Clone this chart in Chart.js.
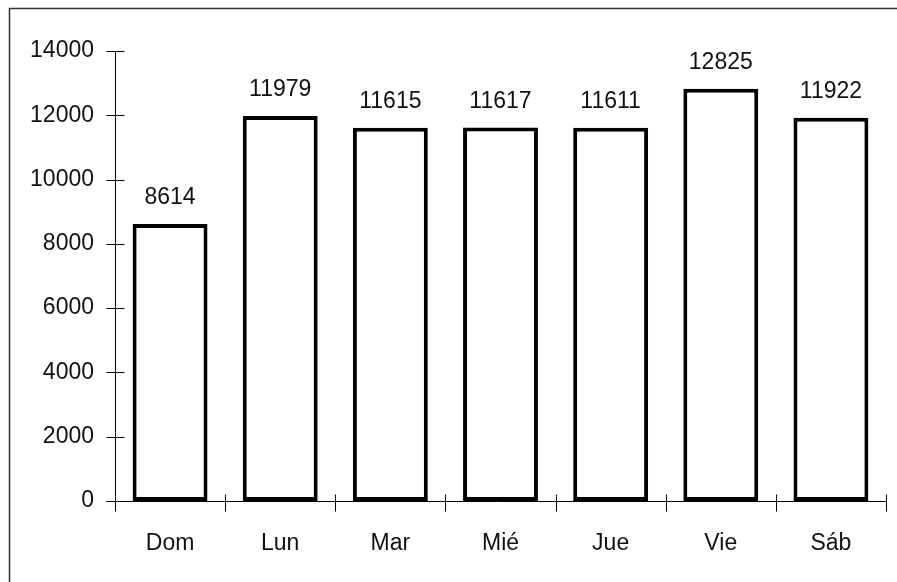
<!DOCTYPE html>
<html>
<head>
<meta charset="utf-8">
<script src="https://cdn.jsdelivr.net/npm/chart.js@4.4.0/dist/chart.umd.min.js"></script>
<style>
  body { margin: 0; background: #fff; }
  #wrap { width: 897px; height: 582px; }
</style>
</head>
<body>
<div id="wrap"><canvas id="visitasChart" width="897" height="582"></canvas></div>
<script>
// datos
const dias = ['Dom', 'Lun', 'Mar', 'Mié', 'Jue', 'Vie', 'Sáb'];
const visitas = [8614, 11979, 11615, 11617, 11611, 12825, 11922];
const yMax = 14000;
const yPaso = 2000;

const fuente = '"Liberation Sans", Arial, sans-serif';

// marco, ejes con marcas cruzadas y etiquetas de valor
const dibujoExtra = {
    id: 'dibujoExtra',
    beforeDraw(chart) {
        const ctx = chart.ctx;
        ctx.save();
        ctx.fillStyle = '#fff';
        ctx.fillRect(0, 0, chart.width, chart.height);
        ctx.strokeStyle = '#333';
        ctx.lineWidth = 1.5;
        ctx.beginPath();
        ctx.moveTo(9.5, chart.height);
        ctx.lineTo(9.5, 8.5);
        ctx.lineTo(chart.width, 8.5);
        ctx.stroke();
        ctx.restore();
    },
    afterDatasetsDraw(chart) {
        const { ctx, chartArea, scales: { x, y } } = chart;
        ctx.save();
        ctx.strokeStyle = '#000';
        ctx.lineWidth = 1;

        const ax = Math.round(chartArea.left) + 0.5;
        const base = Math.round(chartArea.bottom) + 0.5;

        // eje y
        ctx.beginPath();
        ctx.moveTo(ax, Math.round(y.getPixelForValue(yMax)) + 0.5);
        ctx.lineTo(ax, base + 10);
        y.ticks.forEach(t => {
            const py = Math.round(y.getPixelForValue(t.value)) + 0.5;
            ctx.moveTo(ax - 9, py);
            ctx.lineTo(ax + 9, py);
        });

        // eje x
        ctx.moveTo(ax - 9, base);
        ctx.lineTo(chartArea.right, base);
        const paso = x.getPixelForValue(1) - x.getPixelForValue(0);
        for (let i = 1; i <= dias.length; i++) {
            const px = Math.round(x.getPixelForValue(i) - paso / 2) + 0.5;
            ctx.moveTo(px, base - 7);
            ctx.lineTo(px, base + 10);
        }
        ctx.stroke();

        // valores encima de las barras
        ctx.fillStyle = '#111';
        ctx.font = '23px ' + fuente;
        ctx.textAlign = 'center';
        ctx.textBaseline = 'alphabetic';
        chart.getDatasetMeta(0).data.forEach((bar, i) => {
            ctx.fillText(String(visitas[i]), bar.x, bar.y - 20);
        });
        ctx.restore();
    }
};

const ctx = document.getElementById('visitasChart').getContext('2d');

new Chart(ctx, {
    type: 'bar',
    data: {
        labels: dias,
        datasets: [{
            data: visitas,
            backgroundColor: '#fff',
            borderColor: '#000',
            borderWidth: 4,
            borderSkipped: false,
            categoryPercentage: 1,
            barPercentage: 0.68
        }]
    },
    options: {
        responsive: false,
        animation: false,
        layout: {
            padding: { top: 51, right: 11, left: 0, bottom: 0 }
        },
        plugins: {
            legend: { display: false },
            tooltip: { enabled: false }
        },
        scales: {
            x: {
                grid: { display: false },
                border: { display: false },
                ticks: {
                    color: '#111',
                    padding: 21,
                    font: { family: fuente, size: 23 }
                },
                afterFit(scale) { scale.height = 81; }
            },
            y: {
                min: 0,
                max: yMax,
                grid: { display: false },
                border: { display: false },
                ticks: {
                    stepSize: yPaso,
                    color: '#111',
                    padding: 13,
                    font: { family: fuente, size: 23 },
                    callback: v => String(v)
                },
                afterFit(scale) { scale.width = 115; }
            }
        }
    },
    plugins: [dibujoExtra]
});
</script>
</body>
</html>
